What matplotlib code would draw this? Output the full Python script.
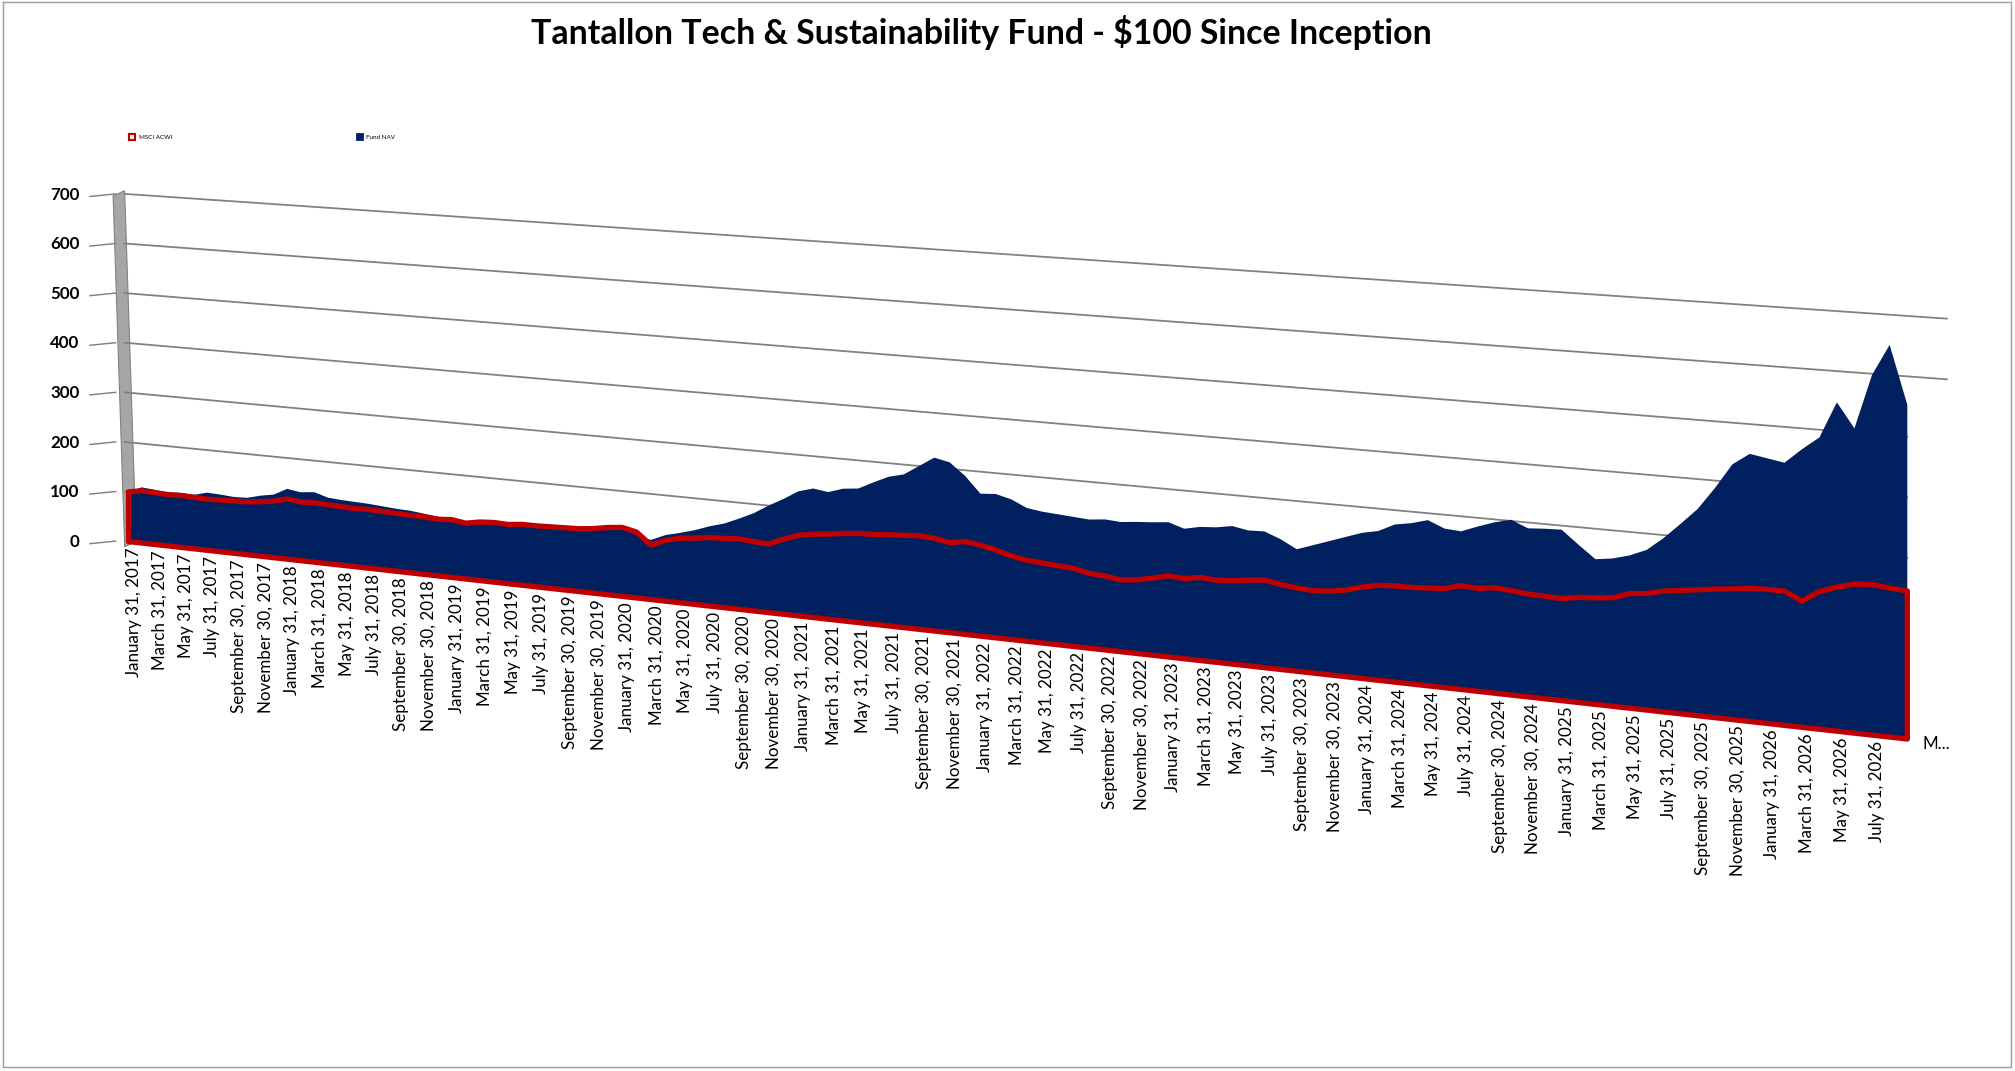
import matplotlib
matplotlib.use("Agg")
import matplotlib.pyplot as plt
import pandas as pd
import numpy as np

plt.rcParams['font.family'] = ['Lato', 'DejaVu Sans']

title = "Tantallon Tech & Sustainability Fund - $100 Since Inception"
series_names = ["MSCI ACWI", "Fund NAV"]
y_ticks = [0, 100, 200, 300, 400, 500, 600, 700]

fund_nav = [100,112,110,107,109,108,115,114,112,113,120,125,
            139,135,138,130,128,127,126,124,122,121,118,115,
            112,110,111,108,110,109,109,108,112,113,115,118,
            120,118,113,125,132,140,
            150,158,170,183,200,215,
            232,240,236,245,248,262,
            275,282,300,318,312,290,
            260,262,255,242,238,236,
            234,232,235,233,236,238,
            241,232,238,240,245,240,
            241,230,215,225,235,245,
            255,261,275,280,288,276,
            274,285,295,302,290,292,
            293,270,248,252,260,272,
            295,322,350,388,430,450,
            445,440,465,487,548,507,
            598,650,553]
msci_acwi = [100,105,104,103,104,103,102,103,104,105,108,112,
             119,116,117,116,115,114,115,114,113,112,112,110,
             112,108,113,115,114,117,117,118,119,120,123,128,
             131,125,103,115,122,125,
             129,130,132,130,128,140,
             150,155,158,162,165,166,
             168,170,172,170,165,170,
             166,160,152,147,145,143,
             141,135,133,129,132,138,
             145,143,148,146,148,152,
             155,150,147,145,147,152,
             160,166,168,168,170,172,
             180,178,182,180,177,176,
             175,180,182,185,195,198,
             205,209,213,217,220,224,
             225,225,211,230,240,248,
             250,247,245]
dates = pd.date_range("2017-01-31", periods=len(fund_nav), freq="ME")
labels = [f"{d:%B} {d.day}, {d.year}" for d in dates]

W, H = 1568, 834
fig = plt.figure(figsize=(W/100, H/100), dpi=100*2015/W)
ax = fig.add_axes([0, 0, 1, 1])
ax.set_xlim(0, W); ax.set_ylim(H, 0); ax.axis('off')

def xpos(i):
    return 100 + 10.1*np.asarray(i, float) + 0.0158*np.asarray(i, float)**2
def base(x):
    return 422 + (x-100)*0.111
def scale(x):
    return 0.386 + (x-100)*0.0000609
def proj(i, v):
    x = xpos(i)
    return x, base(x) - scale(x)*np.asarray(v, float)

n = len(fund_nav)
idx = np.arange(n)
xend = float(xpos(n-1))

# border
ax.plot([2, W-3, W-3, 2, 2], [2, 2, H-3, H-3, 2], color='#a0a0a0', lw=0.8)

# wall
ax.fill([88, 97, 106, 97], [153, 149, 422, 426], color='#a6a6a6', ec='#808080', lw=0.6)

# gridlines + tick labels
for v in y_ticks:
    xr = 1515 if v >= 600 else xend
    xs = np.array([97, xr])
    ys = base(xs) - scale(xs)*v
    ys[0] = base(97) - 0.386*v
    if v > 0:
        ax.plot(xs, ys, color='#808080', lw=1.0, zorder=1)
    ax.plot([70, 90], [ys[0]+2, ys[0]], color='#808080', lw=0.8)
    ax.text(62, ys[0], str(v), ha='right', va='center', fontsize=9.5, fontweight='bold')

# Fund NAV area
fx, fy = proj(idx, fund_nav)
bx, by = proj(idx, np.zeros(n))
ax.fill(np.r_[fx, bx[::-1]], np.r_[fy, by[::-1]], color='#002060', lw=0, zorder=2)

# MSCI ACWI area
mx, my = proj(idx, msci_acwi)
ax.fill(np.r_[mx, bx[::-1]], np.r_[my, by[::-1]], facecolor='#002060',
        edgecolor='#c00000', lw=3, joinstyle='round', zorder=3)

# category labels
for i in range(0, n-1, 2):
    x, y = proj(i, 0)
    ax.text(x+4, y+4, labels[i], rotation=90, ha='center', va='top', fontsize=9.5)
x, y = proj(n-1, 0)
ax.text(x+12, y+3, "M...", ha='left', va='center', fontsize=9.5)

# legend
ax.plot([103], [107], marker='s', ms=3, mfc='white', mec='#c00000', mew=1.2)
ax.text(108, 107, series_names[0], fontsize=3.5, va='center')
ax.plot([280], [107], marker='s', ms=3, mfc='#002060', mec='#002060')
ax.text(285, 107, series_names[1], fontsize=3.5, va='center')

ax.text(W/2 - 20, 25, title, ha='center', va='center', fontsize=19, fontweight='bold')

fig.savefig("out.png", dpi=100*2015/W)
